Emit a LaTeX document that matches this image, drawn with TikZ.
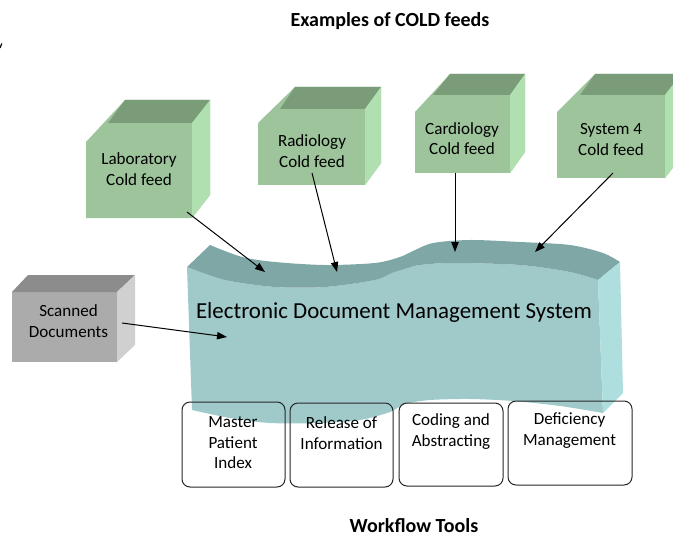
\documentclass[tikz,border=0pt]{standalone}
\usepackage{fontspec}
\setmainfont{Carlito}
\usetikzlibrary{arrows.meta}
\definecolor{cfront}{RGB}{157,196,155}
\definecolor{ctop}{RGB}{122,156,121}
\definecolor{cright}{RGB}{176,223,176}
\definecolor{gfront}{RGB}{171,171,171}
\definecolor{gtop}{RGB}{140,140,140}
\definecolor{gright}{RGB}{208,208,208}
\definecolor{efront}{RGB}{160,202,202}
\definecolor{etop}{RGB}{127,167,166}
\definecolor{eright}{RGB}{174,222,222}
% #1 L, #2 R, #3 T, #4 B, #5 left-edge top y, #6 top-front-left x, #7 back-left x, #8 back y, #9 back-right x
\newcommand\gcube[9]{%
 \fill[cfront] (#1,#4) -- (#1,#5) -- (#7,#8) -- (#9,#8) -- (#9,{#4-(#3-#8)}) -- (#2,#4) -- cycle;
 \fill[ctop] (#6,#3) -- (#7,#8) -- (#9,#8) -- (#2,#3) -- cycle;
 \fill[cright] (#2,#3) -- (#9,#8) -- (#9,{#4-(#3-#8)}) -- (#2,#4) -- cycle;
}
\begin{document}
\begin{tikzpicture}[x=0.75pt,y=-0.75pt,
 lbl/.style={font=\fontsize{12.8}{15.4}\selectfont, align=center, inner sep=0pt},
 ttl/.style={font=\fontsize{15}{18}\selectfont\bfseries, inner sep=0pt},
 feed/.style={-{Triangle[length=7.5pt,width=5.5pt]}, line width=0.75pt},
 tool/.style={draw=black!85, line width=0.75pt, rounded corners=6pt}]
\useasboundingbox (0,0) rectangle (673,538);

% stray mark
\draw[line width=0.9pt] (0,48) -- (1.8,43.5);

% titles
\node[ttl] (t1) at (390,21) {Examples of COLD feeds};
\node[ttl] (t2) at (414,526) {Workflow Tools};

% EDMS shape
\fill[efront] plot[smooth] coordinates {(187,267) (225,280) (275,287) (325,287) (375,280) (392,273) (408,268) (420,265) (453,263) (520,265) (570,272) (598,280)}
  -- (603,413) -- plot[smooth] coordinates {(603,413) (560,406) (513,401) (470,399) (430,400) (405,404) (390,412) (360,420) (320,423) (270,423) (230,418) (192,410)} -- cycle;
\fill[etop] (187,267) -- plot[smooth] coordinates {(210,245) (242,257) (275,262) (325,265) (375,263) (400,257) (413,251) (433,243) (470,240) (520,242) (570,245) (603,253) (620,262)}
  -- plot[smooth] coordinates {(598,280) (570,272) (520,265) (453,263) (420,265) (408,268) (392,273) (375,280) (325,287) (275,287) (225,280) (187,267)} -- cycle;
\fill[eright] (598,280) -- (620,262) -- (623,393) -- (603,413) -- cycle;
\node[font=\fontsize{17.2}{20}\selectfont, inner sep=0pt, anchor=base] (edms) at (394,318) {Electronic Document Management System};

% cubes
\gcube{86}{192}{123}{218}{142}{108}{125}{100}{210}
\gcube{258}{365}{109}{185}{123}{280}{295}{87}{381}
\gcube{415}{510}{95}{173}{112}{433}{450}{74}{525}
\gcube{557}{665}{95}{178}{112}{580}{595}{74}{681}
\node[lbl] (lab) at (139,169) {Laboratory\\Cold feed};
\node[lbl] (rad) at (312,151) {Radiology\\Cold feed};
\node[lbl] (card) at (462,138.5) {Cardiology\\Cold feed};
\node[lbl] (sys) at (611,139.5) {System 4\\Cold feed};

% scanned documents cube
\fill[gfront] (12,292) rectangle (117,362);
\fill[gtop] (12,292) -- (28,275) -- (135,275) -- (117,292) -- cycle;
\fill[gright] (117,292) -- (135,275) -- (135,345) -- (117,362) -- cycle;
\node[lbl] (scan) at (68.5,321) {Scanned\\Documents};

% workflow tools
\draw[tool] (182,402) rectangle (285,487);
\draw[tool] (290,403) rectangle (393,487);
\draw[tool] (399,403) rectangle (503,486);
\draw[tool] (508,401) rectangle (632,485);
\node[lbl] (mpi) at (233,443) {Master\\Patient\\Index};
\node[lbl] (roi) at (341.5,433) {Release of\\Information};
\node[lbl] (cod) at (451,431.5) {Coding and\\Abstracting};
\node[lbl] (def) at (569.5,430.5) {Deficiency\\Management};

% connectors
\coordinate (labS) at (187,212); \coordinate (labE) at (265,272);
\coordinate (radS) at (312,173); \coordinate (radE) at (337,272);
\coordinate (cardS) at (455,173); \coordinate (cardE) at (455,252);
\coordinate (sysS) at (613,173); \coordinate (sysE) at (535,252);
\coordinate (scanS) at (122,323); \coordinate (scanE) at (227,337);
\draw[feed] (labS) -- (labE);
\draw[feed] (radS) -- (radE);
\draw[feed] (cardS) -- (cardE);
\draw[feed] (sysS) -- (sysE);
\draw[feed] (scanS) -- (scanE);
\end{tikzpicture}
\end{document}
